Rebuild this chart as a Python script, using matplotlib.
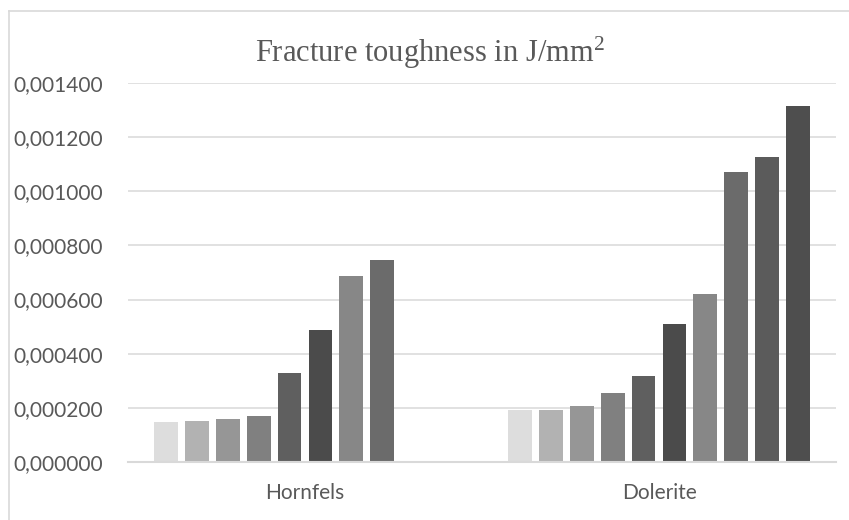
import numpy as np
import matplotlib
matplotlib.use('Agg')
import matplotlib.pyplot as plt
from matplotlib.lines import Line2D
from matplotlib.ticker import FuncFormatter

categories = ['Hornfels', 'Dolerite']
hornfels = [0.000149, 0.000152, 0.000160, 0.000169, 0.000327, 0.000488, 0.000688, 0.000747]
dolerite = [0.000191, 0.000191, 0.000208, 0.000255, 0.000318, 0.000508, 0.000621, 0.001072, 0.001127, 0.001315]
series_colors = ['#DDDDDD', '#B2B2B2', '#969696', '#808080', '#5F5F5F',
                 '#4B4B4B', '#878787', '#6B6B6B', '#5B5B5B', '#4E4E4E']
yticks = [0.0, 0.0002, 0.0004, 0.0006, 0.0008, 0.0010, 0.0012, 0.0014]

text_color = '#595959'
grid_color = '#D9D9D9'

plt.rcParams['mathtext.fontset'] = 'custom'
plt.rcParams['mathtext.rm'] = 'Liberation Serif'

fig = plt.figure(figsize=(8.49, 5.20), dpi=100)
ax = fig.add_axes([128/849, 1 - 462/520, (836 - 128)/849, (462 - 83)/520])

groups = [hornfels, dolerite]
n_series = len(series_colors)
slot = 0.0872
bar_w = 0.067

# one bar per series, skipping categories that have no value for it
for i in range(n_series):
    xs, hs = [], []
    for c, vals in enumerate(groups):
        if i < len(vals):
            xs.append(c + (i - (n_series - 1) / 2) * slot)
            hs.append(vals[i])
    ax.bar(xs, hs, width=bar_w, color=series_colors[i], zorder=3)

ax.set_xlim(-0.5, len(categories) - 0.5)
ax.set_ylim(0, 0.0014)
ax.set_yticks(yticks)
ax.yaxis.set_major_formatter(FuncFormatter(lambda v, p: f'{v:.6f}'.replace('.', ',')))
ax.set_xticks(range(len(categories)))
ax.set_xticklabels(categories)

ax.grid(axis='y', color=grid_color, lw=1.1, zorder=0)
for s in ['top', 'right', 'left']:
    ax.spines[s].set_visible(False)
ax.spines['bottom'].set_color(grid_color)
ax.spines['bottom'].set_linewidth(1.5)
ax.spines['bottom'].set_zorder(4)

ax.tick_params(axis='both', length=0, colors=text_color, labelsize=15)
ax.tick_params(axis='y', pad=18)
ax.tick_params(axis='x', pad=15)
for lab in ax.get_xticklabels() + ax.get_yticklabels():
    lab.set_fontfamily('Lato')

fig.text(430/849, 1 - 61.7/520, r'Fracture toughness in J/mm$\mathrm{^2}$', ha='center', va='baseline',
         fontsize=22, color=text_color, family='Liberation Serif')

# chart frame (right and bottom edges fall outside the image)
fig.add_artist(Line2D([9.3/849, 9.3/849], [0, 1 - 10.5/520], color=grid_color, lw=1.2))
fig.add_artist(Line2D([9.3/849, 1], [1 - 10.5/520, 1 - 10.5/520], color=grid_color, lw=1.2))

fig.savefig('out.png', dpi=100)
